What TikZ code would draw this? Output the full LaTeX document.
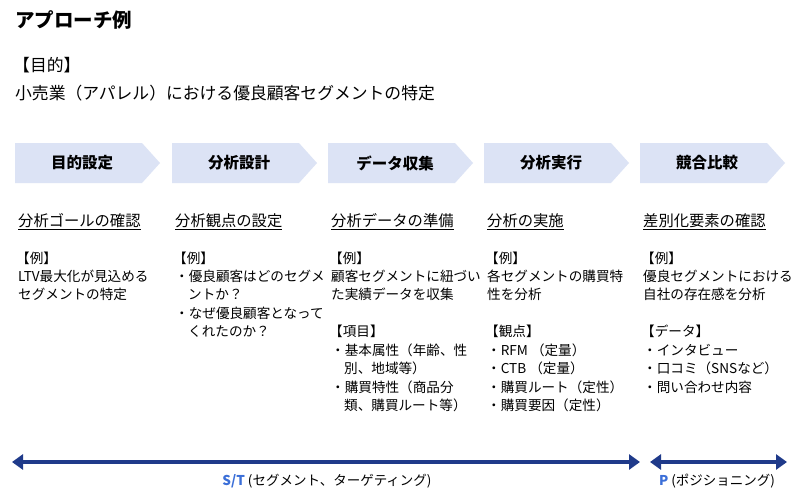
\documentclass[tikz,border=0pt]{standalone}
\usepackage{fontspec}
\setmainfont{Noto Sans CJK JP}
\usetikzlibrary{arrows.meta}
\definecolor{chev}{HTML}{DCE3F5}
\definecolor{navy}{HTML}{1F3A8A}
\definecolor{lblue}{HTML}{3B6FD8}
\tikzset{
 txt/.style={anchor=west,inner sep=0pt,font=\fontsize{13.6}{16}\selectfont},
 head/.style={anchor=west,inner sep=0pt,font=\fontsize{15.3}{18}\selectfont},
 clab/.style={inner sep=0pt,font=\bfseries\fontsize{15.5}{18}\selectfont},
 span/.style={draw=navy,line width=3.2pt,{Triangle[length=11pt,width=15pt]}-{Triangle[length=11pt,width=15pt]}}
}
\newcommand{\uline}[1]{\underline{#1}}
\begin{document}
\begin{tikzpicture}[x=1pt,y=-1pt]
\useasboundingbox[fill=white] (0,0) rectangle (800,499);
\node[anchor=west,inner sep=0pt,font=\bfseries\fontsize{19.5}{22}\selectfont] (title) at (15,20) {アプローチ例};
\node[anchor=west,inner sep=0pt,font=\fontsize{16.8}{19}\selectfont] (p1) at (13,65) {【目的】};
\node[anchor=west,inner sep=0pt,font=\fontsize{16.8}{19}\selectfont] (p2) at (15,93) {小売業（アパレル）における優良顧客セグメントの特定};
\foreach \x/\t/\n in {15/目的設定/c1,172/分析設計/c2,328/データ収集/c3,484/分析実行/c4,640/競合比較/c5}{
 \fill[chev] (\x,143) -- (\x+127,143) -- (\x+145,163) -- (\x+127,183) -- (\x,183) -- cycle;
 \node[clab] (\n) at (\x+67,163) {\t};
}
\foreach \x/\t/\n in {18/分析ゴールの確認/h1,175/分析観点の設定/h2,331/分析データの準備/h3,487/分析の実施/h4,643/差別化要素の確認/h5}{
 \node[head] (\n) at (\x,222) {\uline{\t}};
}
% col1
\node[txt] (a1) at (16,258) {【例】};
\node[txt] (a2) at (18,276) {LTV最大化が見込める};
\node[txt] (a3) at (18,294) {セグメントの特定};
% col2
\node[txt] (b1) at (173,258) {【例】};
\node[txt] (b2) at (175,276) {・優良顧客はどのセグメ};
\node[txt] (b3) at (175,294) {\hspace{13pt}ントか？};
\node[txt] (b4) at (175,313) {・なぜ優良顧客となって};
\node[txt] (b5) at (175,331) {\hspace{13pt}くれたのか？};
% col3
\node[txt] (d1) at (329,258) {【例】};
\node[txt] (d2) at (331,276) {顧客セグメントに紐づい};
\node[txt] (d3) at (331,294) {た実績データを収集};
\node[txt] (d4) at (329,331) {【項目】};
\node[txt] (d5) at (331,350) {・基本属性（年齢、性};
\node[txt] (d6) at (331,368) {\hspace{13pt}別、地域等）};
\node[txt] (d7) at (331,387) {・購買特性（商品分};
\node[txt] (d8) at (331,405) {\hspace{13pt}類、購買ルート等）};
% col4
\node[txt] (e1) at (485,258) {【例】};
\node[txt] (e2) at (487,276) {各セグメントの購買特};
\node[txt] (e3) at (487,294) {性を分析};
\node[txt] (e4) at (485,331) {【観点】};
\node[txt] (e5) at (487,350) {・RFM （定量）};
\node[txt] (e6) at (487,368) {・CTB （定量）};
\node[txt] (e7) at (487,387) {・購買ルート（定性）};
\node[txt] (e8) at (487,405) {・購買要因（定性）};
% col5
\node[txt] (f1) at (641,258) {【例】};
\node[txt] (f2) at (643,276) {優良セグメントにおける};
\node[txt] (f3) at (643,294) {自社の存在感を分析};
\node[txt] (f4) at (641,331) {【データ】};
\node[txt] (f5) at (643,350) {・インタビュー};
\node[txt] (f6) at (643,368) {・口コミ（SNSなど）};
\node[txt] (f7) at (643,387) {・問い合わせ内容};
% spans
\coordinate (s1) at (12,462); \coordinate (s2) at (640,462);
\coordinate (s3) at (650,462); \coordinate (s4) at (787,462);
\draw[span] (s1) -- (s2);
\draw[span] (s3) -- (s4);
\node[inner sep=0pt,font=\fontsize{13.5}{16}\selectfont] (st) at (327,481) {\textcolor{lblue}{\bfseries S/T} (セグメント、ターゲティング)};
\node[inner sep=0pt,font=\fontsize{13.5}{16}\selectfont] (pp) at (717,481) {\textcolor{lblue}{\bfseries P} (ポジショニング)};
\end{tikzpicture}
\end{document}
